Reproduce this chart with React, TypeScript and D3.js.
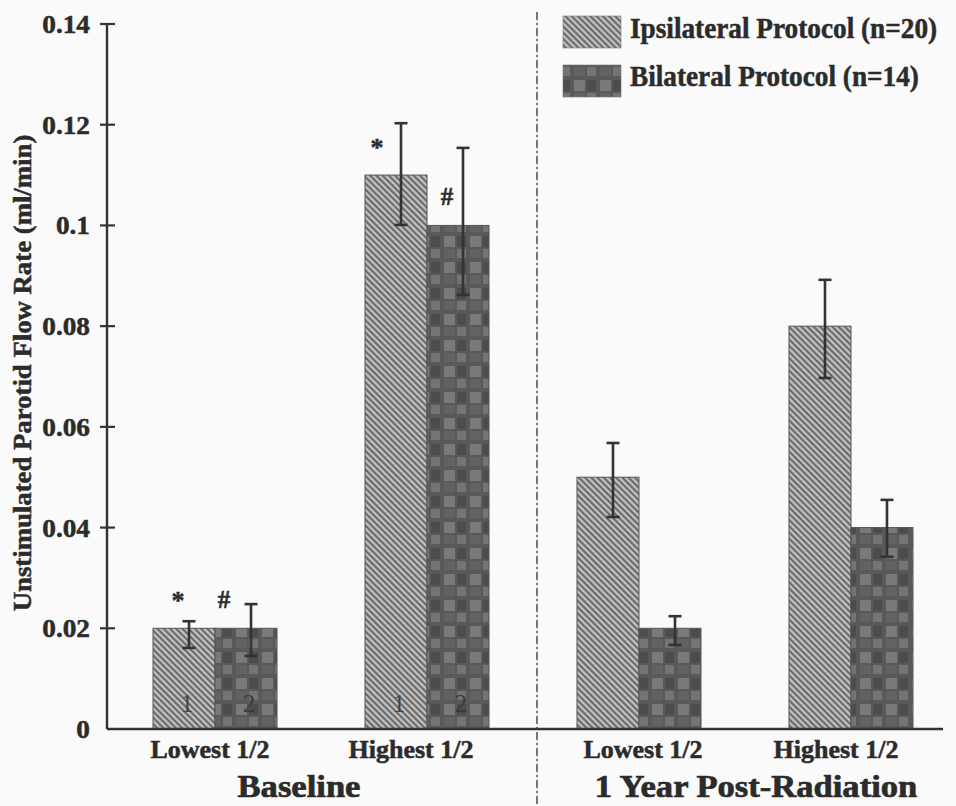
import React from "react";
import * as d3 from "d3";

// ---------- data ----------
const groupKeys = ["base-low", "base-high", "post-low", "post-high"];
const categoryLabels = ["Lowest 1/2", "Highest 1/2", "Lowest 1/2", "Highest 1/2"];
const periodLabels = ["Baseline", "1 Year Post-Radiation"];
const seriesNames = ["Ipsilateral Protocol (n=20)", "Bilateral Protocol (n=14)"];

const ipsiValues = [0.02, 0.11, 0.05, 0.08];
const ipsiErrHigh = [0.0214, 0.1203, 0.0568, 0.0892];
const ipsiErrLow = [0.0161, 0.1001, 0.0421, 0.0697];

const bilatValues = [0.02, 0.1, 0.02, 0.04];
const bilatErrHigh = [0.0248, 0.1154, 0.0224, 0.0455];
const bilatErrLow = [0.0145, 0.0862, 0.0167, 0.0342];

const yTicks = [0, 0.02, 0.04, 0.06, 0.08, 0.1, 0.12, 0.14];
const tickLabels = ["0", "0.02", "0.04", "0.06", "0.08", "0.1", "0.12", "0.14"];

const annotSymbols = ["*", "#", "*", "#"];
const annotGroups = [0, 0, 1, 1];
const annotSeries = [0, 1, 0, 1];

const barNumberGroups = [0, 1];
const barNumbers = ["1", "2"];

// ---------- layout ----------
const W = 956;
const H = 806;
const axisX = 107;
const axisEndX = 943;
const y0px = 729;
const yTopPx = 24;
const dividerX = 537;
const labelShift = [-5, -16, 4, -15];
const annotDx = [-6, -22, -19, -11];
const font = "'Liberation Serif', 'Times New Roman', serif";
const ink = "#2b2b2b";

function SText(props: any) {
  const { x, y, sx = 1, anchor = "start", size, weight = "bold", fill = ink, children, bold = 0.5 } = props;
  return (
    <text
      transform={`translate(${x},${y}) scale(${sx},1)`}
      textAnchor={anchor}
      fontSize={size}
      fontWeight={weight}
      fontFamily={font}
      fill={fill}
      stroke={bold > 0 ? fill : "none"}
      strokeWidth={bold}
    >
      {children}
    </text>
  );
}

export default function App() {
  const y = d3.scaleLinear().domain([0, 0.14]).range([y0px, yTopPx]);
  const x0 = d3
    .scaleBand<string>()
    .domain(groupKeys)
    .range([axisX, 959])
    .paddingInner(0.415)
    .paddingOuter(0.217);
  const x1 = d3.scaleBand<string>().domain(seriesNames).range([0, x0.bandwidth()]);

  const series = [
    { name: seriesNames[0], values: ipsiValues, hi: ipsiErrHigh, lo: ipsiErrLow, fill: "url(#hatch)" },
    { name: seriesNames[1], values: bilatValues, hi: bilatErrHigh, lo: bilatErrLow, fill: "url(#checker)" },
  ];

  const barX = (g: number, s: number) => (x0(groupKeys[g]) as number) + (x1(seriesNames[s]) as number);
  const bw = x1.bandwidth();

  const periodCenter = (i: number) =>
    i === 0 ? ((x0(groupKeys[0]) as number) + (x0(groupKeys[1]) as number) + x0.bandwidth()) / 2 - 22
            : ((x0(groupKeys[2]) as number) + (x0(groupKeys[3]) as number) + x0.bandwidth()) / 2 + 11;

  return (
    <svg width={W} height={H} style={{ position: "absolute", left: 0, top: 0, background: "#fafafa" }}>
      <defs>
        <pattern id="hatch" patternUnits="userSpaceOnUse" width="4.4" height="4.4" patternTransform="rotate(-45)">
          <rect width="4.4" height="4.4" fill="#c2c2c2" />
          <line x1="1.2" y1="0" x2="1.2" y2="4.4" stroke="#5e5e5e" strokeWidth="1.9" />
        </pattern>
        <pattern id="checker" patternUnits="userSpaceOnUse" width="26" height="26">
          <rect width="26" height="26" fill="#595959" />
          <rect x="2" y="2" width="11" height="11" fill="#7a7a7a" />
          <rect x="15" y="15" width="9" height="9" fill="#747474" />
          <rect x="15" y="2" width="9" height="11" fill="#4c4c4c" />
          <rect x="2" y="15" width="11" height="9" fill="#626262" />
        </pattern>
      </defs>

      {/* divider */}
      <line x1={dividerX} x2={dividerX} y1={12} y2={H} stroke="#555" strokeWidth={1.6} strokeDasharray="8,3,2,3" />

      {/* bars */}
      {series.map((s, si) =>
        s.values.map((v, gi) => (
          <rect
            key={`b${si}-${gi}`}
            x={barX(gi, si)}
            y={y(v)}
            width={bw}
            height={y(0) - y(v)}
            fill={s.fill}
            stroke="#555"
            strokeWidth={1}
          />
        ))
      )}

      {/* numbers inside baseline bars */}
      {barNumberGroups.map((g) =>
        barNumbers.map((n, si) => (
          <SText
            key={`n${g}-${si}`}
            x={barX(g, si) + bw / 2 + 3}
            y={y(0) - 17}
            anchor="middle"
            size={25}
            weight="normal"
            fill={si === 0 ? "#444" : "#3a3a3a"}
            bold={0}
          >
            {n}
          </SText>
        ))
      )}

      {/* error bars */}
      {series.map((s, si) =>
        s.values.map((v, gi) => {
          const cx = barX(gi, si) + bw / 2 + 5;
          return (
            <g key={`e${si}-${gi}`} stroke="#333" strokeWidth={2.6}>
              <line x1={cx} x2={cx} y1={y(s.hi[gi])} y2={y(s.lo[gi])} />
              <line x1={cx - 6.5} x2={cx + 6.5} y1={y(s.hi[gi])} y2={y(s.hi[gi])} />
              <line x1={cx - 6.5} x2={cx + 6.5} y1={y(s.lo[gi])} y2={y(s.lo[gi])} />
            </g>
          );
        })
      )}

      {/* annotations */}
      {annotSymbols.map((sym, i) => {
        const g = annotGroups[i];
        const si = annotSeries[i];
        const v = series[si].values[g];
        return (
          <SText
            key={`a${i}`}
            x={barX(g, si) + bw / 2 + annotDx[i]}
            y={y(v) - (sym === "*" ? 19 : 20)}
            anchor="middle"
            size={sym === "*" ? 26 : 25}
          >
            {sym}
          </SText>
        );
      })}

      {/* y axis */}
      <line x1={axisX} x2={axisX} y1={y(0.14)} y2={y(0)} stroke="#333" strokeWidth={2.4} />
      {yTicks.map((t, i) => (
        <g key={`t${i}`}>
          {t > 0 && <line x1={axisX - 7} x2={axisX + 8} y1={y(t)} y2={y(t)} stroke="#333" strokeWidth={2.2} />}
          <SText x={90} y={y(t) + 9} anchor="end" size={26} sx={1.05}>
            {tickLabels[i]}
          </SText>
        </g>
      ))}

      {/* x axis */}
      <line x1={axisX} x2={axisEndX} y1={y(0)} y2={y(0)} stroke="#333" strokeWidth={2.6} />

      {/* category labels */}
      {categoryLabels.map((c, i) => (
        <SText
          key={`c${i}`}
          x={(x0(groupKeys[i]) as number) + x0.bandwidth() / 2 + labelShift[i]}
          y={758}
          anchor="middle"
          size={25}
          sx={1.04}
        >
          {c}
        </SText>
      ))}

      {/* period labels */}
      {periodLabels.map((p, i) => (
        <SText key={`p${i}`} x={periodCenter(i)} y={797} anchor="middle" size={32} sx={1.08} bold={0.7}>
          {p}
        </SText>
      ))}

      {/* y title */}
      <text
        transform={`translate(31,373) rotate(-90) scale(1.05,1)`}
        textAnchor="middle"
        fontSize={25.5}
        fontWeight="bold"
        fontFamily={font}
        fill={ink}
        stroke={ink}
        strokeWidth={0.5}
      >
        Unstimulated Parotid Flow Rate (ml/min)
      </text>

      {/* legend */}
      {series.map((s, i) => (
        <g key={`l${i}`}>
          <rect x={563} y={16 + i * 49} width={58} height={32} fill={s.fill} stroke="#777" strokeWidth={0.6} />
          <SText x={630} y={38 + i * 48} size={29} sx={0.94}>
            {s.name}
          </SText>
        </g>
      ))}
    </svg>
  );
}
